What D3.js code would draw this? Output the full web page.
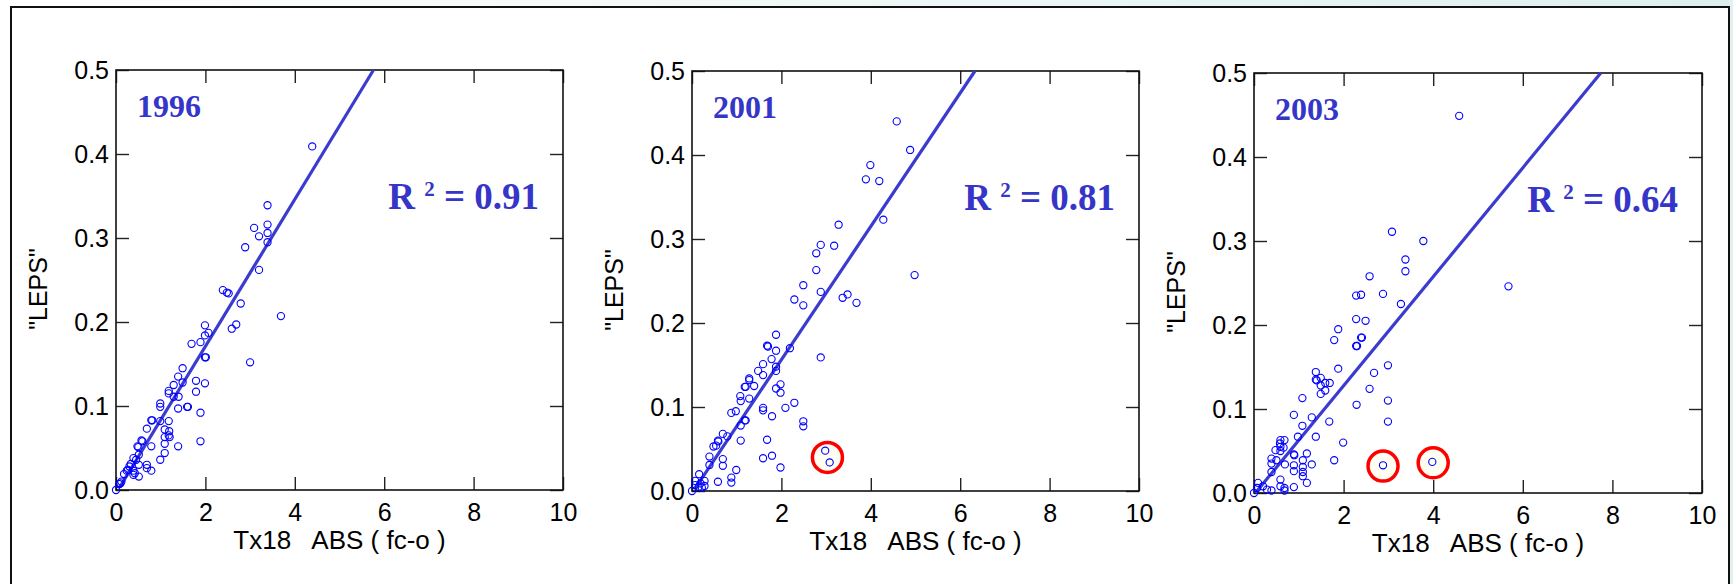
<!DOCTYPE html>
<html>
<head>
<meta charset="utf-8">
<script src="https://cdn.jsdelivr.net/npm/d3@7"></script>
<style>
  body { margin: 0; background: #fff; }
  svg { display: block; }
</style>
</head>
<body>
<div id="chart"></div>
<script>
// ---- data ----
const years = ['1996', '2001', '2003'];
const r2Values = ['0.91', '0.81', '0.64'];
const xTicks = [0, 2, 4, 6, 8, 10];
const yTicks = [0, 0.1, 0.2, 0.3, 0.4, 0.5];
const xTitle = 'Tx18   ABS ( fc-o )';
const yTitle = '"LEPS"';

const pts1996 = [
  [4.39,0.409],[3.39,0.339],[3.09,0.312],[3.39,0.316],[3.20,0.302],[3.39,0.306],[3.39,0.295],
  [2.89,0.289],[3.20,0.262],[2.39,0.238],[2.48,0.235],[2.52,0.234],[2.79,0.222],[3.69,0.207],
  [2.69,0.197],[2.59,0.192],[1.99,0.196],[1.99,0.184],[2.07,0.187],[1.69,0.174],[1.89,0.176],
  [1.99,0.158],[2.01,0.158],[3.00,0.152],[1.49,0.145],[1.39,0.135],[1.49,0.128],[1.29,0.125],
  [1.79,0.130],[1.99,0.127],[1.18,0.118],[1.18,0.115],[1.79,0.117],[1.29,0.111],[1.40,0.111],
  [0.99,0.103],[0.99,0.099],[1.39,0.097],[1.59,0.099],[1.61,0.099],[1.89,0.092],[0.79,0.083],
  [0.81,0.083],[1.18,0.082],[0.99,0.082],[0.69,0.073],[1.09,0.072],[1.19,0.070],[1.09,0.063],
  [1.18,0.065],[1.20,0.063],[0.57,0.059],[0.59,0.058],[0.48,0.052],[0.50,0.051],[0.79,0.052],
  [1.09,0.055],[1.39,0.052],[1.89,0.058],[0.51,0.042],[0.99,0.036],[1.09,0.044],[0.39,0.038],
  [0.30,0.028],[0.69,0.030],[0.69,0.026],[0.79,0.023],[0.51,0.030],[0.39,0.023],[0.39,0.018],
  [0.42,0.020],[0.51,0.016],[0.27,0.024],[0.18,0.019],[0.10,0.008],[0.07,0.007],[0.12,0.010],
  [0.00,0.000],[0.24,0.023],[0.33,0.031],[0.45,0.036]
];

const pts2001 = [
  [4.58,0.440],[4.88,0.406],[3.99,0.388],[3.89,0.371],[4.19,0.369],[4.28,0.323],[3.28,0.317],
  [2.88,0.293],[3.18,0.292],[2.78,0.283],[2.78,0.263],[4.98,0.257],[2.49,0.245],[2.29,0.228],
  [2.49,0.221],[2.88,0.237],[3.37,0.230],[3.48,0.234],[3.68,0.224],[1.88,0.186],[1.68,0.173],
  [1.70,0.172],[2.19,0.170],[1.88,0.167],[1.78,0.157],[2.88,0.159],[1.59,0.151],[1.88,0.148],
  [1.48,0.143],[1.88,0.143],[1.59,0.138],[1.28,0.134],[1.28,0.132],[1.18,0.124],[1.20,0.124],
  [1.39,0.125],[1.98,0.127],[1.88,0.122],[1.98,0.117],[1.28,0.110],[1.08,0.113],[1.09,0.107],
  [2.29,0.105],[2.09,0.099],[1.59,0.099],[1.59,0.096],[0.98,0.095],[0.88,0.093],[1.18,0.084],
  [1.20,0.084],[1.79,0.089],[1.09,0.078],[2.49,0.083],[2.49,0.077],[0.79,0.065],[0.69,0.068],
  [0.58,0.060],[0.59,0.059],[0.54,0.054],[0.48,0.053],[1.09,0.060],[1.68,0.061],[0.39,0.041],
  [0.69,0.038],[0.69,0.030],[1.59,0.039],[1.79,0.042],[1.98,0.028],[0.39,0.031],[0.99,0.025],
  [0.88,0.016],[0.58,0.011],[0.88,0.010],[0.16,0.020],[0.07,0.012],[0.19,0.009],[0.28,0.012],
  [0.28,0.006],[0.15,0.005],[0.07,0.007],[0.00,0.000],[0.22,0.004],[2.98,0.048],[3.08,0.034]
];

const pts2003 = [
  [4.58,0.449],[3.08,0.311],[3.78,0.300],[3.38,0.278],[3.38,0.264],[2.58,0.258],[5.68,0.246],
  [2.28,0.235],[2.39,0.236],[2.88,0.237],[3.28,0.225],[2.28,0.207],[2.49,0.205],[1.88,0.195],
  [1.79,0.182],[2.39,0.185],[2.41,0.185],[2.28,0.175],[2.30,0.175],[1.88,0.148],[2.99,0.152],
  [2.68,0.143],[1.38,0.144],[1.38,0.135],[1.40,0.134],[1.49,0.137],[1.59,0.131],[1.69,0.131],
  [1.49,0.128],[1.59,0.122],[1.49,0.118],[2.58,0.124],[1.08,0.113],[2.29,0.105],[2.99,0.110],
  [0.89,0.093],[1.29,0.090],[1.08,0.080],[1.68,0.085],[2.99,0.085],[0.98,0.067],[1.38,0.067],
  [1.99,0.060],[0.59,0.063],[0.68,0.063],[0.58,0.059],[0.59,0.055],[0.66,0.054],[0.48,0.051],
  [0.59,0.050],[0.39,0.041],[0.89,0.046],[0.90,0.045],[1.18,0.047],[0.50,0.039],[0.39,0.035],
  [0.69,0.034],[0.89,0.033],[1.09,0.039],[1.09,0.031],[1.29,0.034],[1.79,0.039],[0.89,0.026],
  [1.09,0.025],[1.09,0.020],[0.39,0.025],[1.18,0.012],[0.59,0.016],[0.59,0.008],[0.68,0.006],
  [0.89,0.007],[0.68,0.003],[0.09,0.012],[0.07,0.006],[0.29,0.004],[0.39,0.003],[0.00,0.000],
  [0.20,0.008],[2.88,0.033],[3.98,0.037]
];

// regression lines, as two end points each
const fit1996 = [[0.08, 0.003], [5.76, 0.5]];
const fit2001 = [[0.07, 0.003], [6.33, 0.5]];
const fit2003 = [[0.03, 0.0], [7.74, 0.5]];

// red rings drawn round the outliers
const ring1996 = [];
const ring2001 = [[3.03, 0.040]];
const ring2003 = [[2.88, 0.032], [4.00, 0.036]];

const series = [pts1996, pts2001, pts2003];
const fits = [fit1996, fit2001, fit2003];
const rings = [ring1996, ring2001, ring2003];

// ---- layout ----
const W = 1733;
const H = 584;
const frames = [
  { left: 116, top: 70, w: 447, h: 420 },
  { left: 692, top: 71, w: 447, h: 420 },
  { left: 1254, top: 73, w: 448, h: 420 }
];
const sans = '"Liberation Sans", Arial, Helvetica, sans-serif';
const serif = '"Liberation Serif", "Times New Roman", serif';
const textBlue = '#3535c8';

const svg = d3.select('#chart')
  .append('svg')
  .attr('width', W)
  .attr('height', H);

// faint band above the slide frame
const grad = svg.append('defs').append('linearGradient').attr('id', 'band');
grad.append('stop').attr('offset', '0%').attr('stop-color', '#ffffff');
grad.append('stop').attr('offset', '45%').attr('stop-color', '#f1f8f8');
grad.append('stop').attr('offset', '100%').attr('stop-color', '#dcefee');
svg.append('rect').attr('width', W).attr('height', 7).attr('fill', 'url(#band)');
svg.append('rect').attr('x', 1729).attr('width', W - 1729).attr('height', H).attr('fill', '#e2f1f0');
svg.append('path')
  .attr('d', `M11,${H} V7 H1729 V${H}`)
  .attr('fill', 'none')
  .attr('stroke', '#111')
  .attr('stroke-width', 2);

frames.forEach((f, i) => {
  const g = svg.append('g').attr('transform', `translate(${f.left},${f.top})`);
  const x = d3.scaleLinear().domain([0, 10]).range([0, f.w]);
  const y = d3.scaleLinear().domain([0, 0.5]).range([f.h, 0]);

  // axes, ticks pointing inward on all four sides
  const bottom = g.append('g')
    .attr('transform', `translate(0,${f.h})`)
    .call(d3.axisBottom(x).tickValues(xTicks).tickSize(-13).tickSizeOuter(0)
      .tickPadding(13).tickFormat(d3.format('d')));
  g.append('g')
    .call(d3.axisTop(x).tickValues(xTicks).tickSize(-13).tickSizeOuter(0).tickFormat(''));
  const left = g.append('g')
    .call(d3.axisLeft(y).tickValues(yTicks).tickSize(-13).tickSizeOuter(0)
      .tickPadding(7).tickFormat(d3.format('.1f')));
  g.append('g')
    .attr('transform', `translate(${f.w},0)`)
    .call(d3.axisRight(y).tickValues(yTicks).tickSize(-13).tickSizeOuter(0).tickFormat(''));

  g.selectAll('.domain').remove();
  g.selectAll('.tick line').attr('stroke', '#222').attr('stroke-width', 1.4);
  [bottom, left].forEach((a) => {
    a.attr('font-family', sans).attr('font-size', 25);
    a.selectAll('text').attr('fill', '#000');
  });

  g.append('rect')
    .attr('width', f.w)
    .attr('height', f.h)
    .attr('fill', 'none')
    .attr('stroke', '#111')
    .attr('stroke-width', 1.6);

  // axis titles
  g.append('text')
    .attr('x', f.w / 2)
    .attr('y', f.h + 59)
    .attr('text-anchor', 'middle')
    .style('white-space', 'pre')
    .attr('font-family', sans)
    .attr('font-size', 26)
    .text(xTitle);
  g.append('text')
    .attr('transform', `translate(-78,${f.h / 2 + 9}) rotate(-90)`)
    .attr('dy', '0.35em')
    .attr('text-anchor', 'middle')
    .attr('font-family', sans)
    .attr('font-size', 25)
    .text(yTitle);

  // outlier rings
  g.selectAll('.ring')
    .data(rings[i])
    .enter()
    .append('circle')
    .attr('class', 'ring')
    .attr('cx', (d) => x(d[0]))
    .attr('cy', (d) => y(d[1]))
    .attr('r', 15)
    .attr('fill', '#fffef2')
    .attr('stroke', '#ff0000')
    .attr('stroke-width', 3.5);

  // regression line
  g.append('path')
    .datum(fits[i])
    .attr('d', d3.line().x((d) => x(d[0])).y((d) => y(d[1])))
    .attr('fill', 'none')
    .attr('stroke', '#3b3bd0')
    .attr('stroke-width', 3.2);

  // points
  g.selectAll('.pt')
    .data(series[i])
    .enter()
    .append('circle')
    .attr('class', 'pt')
    .attr('cx', (d) => x(d[0]))
    .attr('cy', (d) => y(d[1]))
    .attr('r', 3.6)
    .attr('fill', 'none')
    .attr('stroke', '#0000ff')
    .attr('stroke-width', 1.1);

  // year and R² notes
  g.append('text')
    .attr('x', 21)
    .attr('y', 47)
    .attr('font-family', serif)
    .attr('font-weight', 'bold')
    .attr('font-size', 32)
    .attr('fill', textBlue)
    .text(years[i]);

  const r2 = g.append('text')
    .attr('x', f.w - 24)
    .attr('y', 139)
    .attr('text-anchor', 'end')
    .attr('font-family', serif)
    .attr('font-weight', 'bold')
    .attr('font-size', 37)
    .attr('fill', textBlue)
    .style('white-space', 'pre');
  r2.append('tspan').text('R ');
  r2.append('tspan').attr('font-size', 21).attr('dy', -13).text('2');
  r2.append('tspan').attr('dy', 13).text(` = ${r2Values[i]}`);
});
</script>
</body>
</html>
